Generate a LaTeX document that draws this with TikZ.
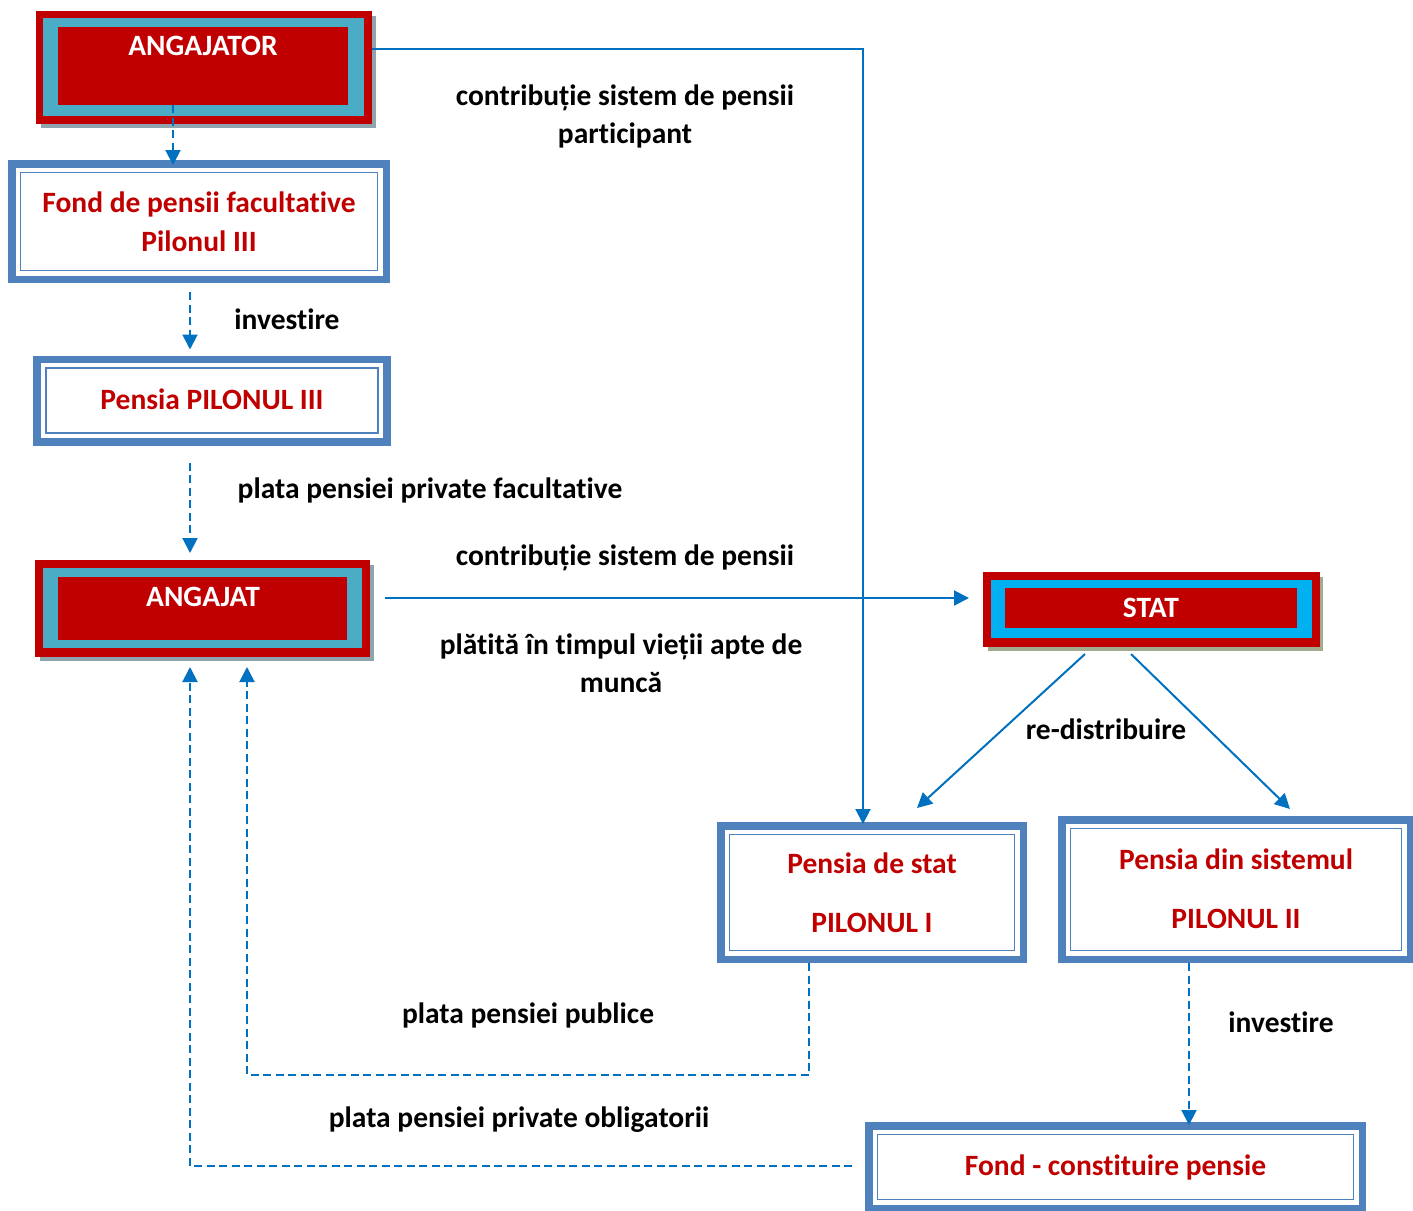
\documentclass[tikz,border=0pt]{standalone}
\usepackage{fontspec}
\setmainfont{Carlito}[Ligatures={NoCommon}]
\usetikzlibrary{arrows.meta,calc}
\definecolor{dred}{HTML}{C00000}
\definecolor{bband}{HTML}{4F81BD}
\definecolor{cyanA}{HTML}{4BACC6}
\definecolor{cyanS}{HTML}{00B0F0}
\definecolor{connc}{HTML}{0070C0}
\definecolor{shadowA}{HTML}{8EA4AE}
\definecolor{shadowS}{HTML}{A3AB8F}
\newcommand\innerline[1]{\draw[bband,line width=1.8pt] ($(#1.north west)+(12.5pt,-12.5pt)$) rectangle ($(#1.south east)+(-12.5pt,12.5pt)$);}
\begin{document}
\begin{tikzpicture}[x=1pt,y=-1pt,
 font=\fontsize{29.5}{38}\selectfont\bfseries,
 bluebox/.style={draw=bband, line width=7.5pt, fill=white, text=dred, align=center, inner sep=0pt, outer sep=3.75pt},
 redbox/.style={fill=dred, inner sep=0pt, outer sep=0pt},
 boxtext/.style={text=white, inner sep=0pt},
 lbl/.style={align=center, inner sep=0pt, text=black},
 conn/.style={draw=connc, line width=2pt},
 dconn/.style={conn, dash pattern=on 8pt off 4.5pt},
 arr/.style={-{Triangle[length=15pt,width=15pt]}}
]
\useasboundingbox (0,0) rectangle (1413,1210);

% ---------- ANGAJATOR ----------
\fill[shadowA] (41,16) rectangle (376,128);
\node[redbox, minimum width=336pt, minimum height=113pt] (angajator) at (204,67.5) {};
\fill[cyanA] (43,18) rectangle (364,116);
\fill[dred] (58,27) rectangle (348,105);
\node[boxtext] (angajatorT) at (203,46) {ANGAJATOR};

% ---------- ANGAJAT ----------
\fill[shadowA] (40,565) rectangle (374,661);
\node[redbox, minimum width=335pt, minimum height=97pt] (angajat) at (202.5,608.5) {};
\fill[cyanA] (43,568) rectangle (362,648);
\fill[dred] (58,577) rectangle (347,640);
\node[boxtext] (angajatT) at (203,597) {ANGAJAT};

% ---------- STAT ----------
\fill[shadowS] (988,577) rectangle (1323,651);
\node[redbox, minimum width=337pt, minimum height=75pt] (stat) at (1151.5,609.5) {};
\fill[cyanS] (991,580) rectangle (1312,638);
\fill[dred] (1005,588) rectangle (1297,628);
\node[boxtext] (statT) at (1151,608) {STAT};

% ---------- blue boxes ----------
\node[bluebox, minimum width=374.5pt, minimum height=115.5pt] (fond) at (199,221.5)
  {Fond de pensii facultative\\[1pt]Pilonul III};
\innerline{fond}
\node[bluebox, minimum width=350pt, minimum height=82.5pt] (p3) at (212,400.5)
  {\raisebox{3pt}{Pensia PILONUL III}};
\innerline{p3}
\node[bluebox, minimum width=302.5pt, minimum height=133.5pt] (pstat) at (872,892.5)
  {Pensia de stat\\[21pt]PILONUL I};
\innerline{pstat}
\node[bluebox, minimum width=348.5pt, minimum height=139.5pt] (psist) at (1236,889.5)
  {\raisebox{2pt}{Pensia din sistemul}\\[21pt]\raisebox{2pt}{PILONUL II}};
\innerline{psist}
\node[bluebox, minimum width=493.5pt, minimum height=82.5pt] (fondc) at (1115.5,1167)
  {\raisebox{3pt}{Fond - constituire pensie}};
\innerline{fondc}

% ---------- connectors ----------
\draw[dconn,arr] ($(angajator.south)+(-31pt,19pt)$) -- ($(fond.north)+(-26pt,-5pt)$);
\draw[dconn,arr] ($(fond.south)+(-9pt,-9pt)$) -- ($(p3.north)+(-22pt,6pt)$);
\draw[dconn,arr] ($(p3.south)+(-22pt,-17pt)$) -- ($(angajat.north)+(-12.5pt,7pt)$);
\draw[conn,arr] ($(angajator.east)+(0pt,18.5pt)$) -| ($(pstat.north)+(-9pt,-2pt)$);
\draw[conn,arr] ($(angajat.east)+(15pt,10.5pt)$) -- ($(stat.west)+(-14pt,11.5pt)$);
\draw[conn,arr] ($(stat.south)+(-66.5pt,-7pt)$) -- ($(pstat.north)+(45pt,14pt)$);
\draw[conn,arr] ($(stat.south)+(-20.5pt,-7pt)$) -- ($(psist.north)+(54pt,7pt)$);
\draw[dconn,arr] ($(pstat.south)+(-63pt,0pt)$) -- ++(0,112) -| ($(angajat.south)+(44.5pt,-10pt)$);
\draw[dconn,arr] ($(psist.south)+(-47pt,0pt)$) -- ($(fondc.north)+(73.5pt,-3pt)$);
\draw[dconn,arr] ($(fondc.west)+(-13pt,1pt)$) -| ($(angajat.south)+(-12.5pt,-10pt)$);

% ---------- labels ----------
\node[lbl] (l1) at (625,116) {contribuție sistem de pensii\\participant};
\node[lbl] (l2) at (287,319) {investire};
\node[lbl] (l3) at (430,490) {plata pensiei private facultative};
\node[lbl] (l4) at (625,558) {contribuție sistem de pensii};
\node[lbl] (l5) at (621,663.5) {plătită în timpul vieții apte de\\muncă};
\node[lbl] (l6) at (1106,729) {re-distribuire};
\node[lbl] (l7) at (528,1015) {plata pensiei publice};
\node[lbl] (l8) at (1281,1022) {investire};
\node[lbl] (l9) at (519,1120) {plata pensiei private obligatorii};
\end{tikzpicture}
\end{document}
